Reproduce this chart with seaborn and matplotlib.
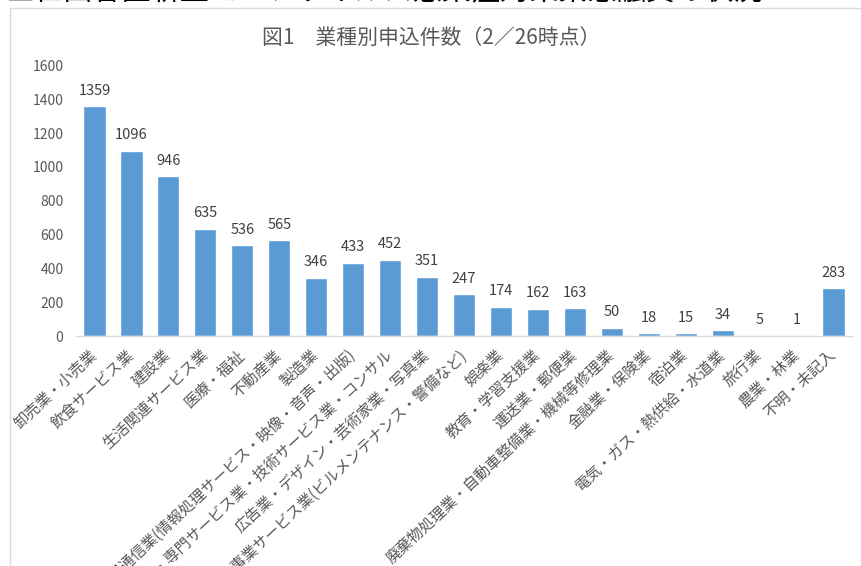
import matplotlib
matplotlib.use("Agg")
import matplotlib.pyplot as plt
import seaborn as sns
import pandas as pd
from matplotlib.patches import Rectangle

# Applications by industry (as of 2/26)
industries = [
    "卸売業・小売業",
    "飲食サービス業",
    "建設業",
    "生活関連サービス業",
    "医療・福祉",
    "不動産業",
    "製造業",
    "情報通信業(情報処理サービス・映像・音声・出版)",
    "学術研究・専門サービス業・技術サービス業・コンサル",
    "広告業・デザイン・芸術家業・写真業",
    "その他の事業サービス業(ビルメンテナンス・警備など)",
    "娯楽業",
    "教育・学習支援業",
    "運送業・郵便業",
    "廃棄物処理業・自動車整備業・機械等修理業",
    "金融業・保険業",
    "宿泊業",
    "電気・ガス・熱供給・水道業",
    "旅行業",
    "農業・林業",
    "不明・未記入",
]
applications = [1359, 1096, 946, 635, 536, 565, 346, 433, 452, 351, 247,
                174, 162, 163, 50, 18, 15, 34, 5, 1, 283]
y_ticks = [0, 200, 400, 600, 800, 1000, 1200, 1400, 1600]

header = "■世田谷区新型コロナウイルス感染症対策緊急融資の状況"
title = "図1　業種別申込件数（2／26時点）"

sns.set_theme(style="white")
plt.rcParams["font.family"] = ["Noto Sans CJK JP", "DejaVu Sans"]

W, H = 862, 566
fig = plt.figure(figsize=(W / 100, H / 100), dpi=100)
fig.patch.set_facecolor("white")

# page header above the chart frame (runs off the top edge)
fig.text(5 / W, 1 - 0.5 / H, header, ha="left", va="baseline",
         fontsize=21, color="black")

# chart frame
fig.patches.append(Rectangle((10 / W, -0.1), 1.2, 1 - 8 / H + 0.1,
                             transform=fig.transFigure, fill=False,
                             edgecolor="#d9d9d9", linewidth=1.0))

fig.text(0.5, 1 - 38 / H, title, ha="center", va="center",
         fontsize=15, color="#595959")

ax = fig.add_axes([76 / W, 230 / H, 776 / W, 270.5 / H])
ax.set_facecolor("none")

df = pd.DataFrame({"業種": industries, "件数": applications})
sns.barplot(data=df, x="業種", y="件数", color="#5b9bd5", saturation=1,
            width=0.6, ax=ax)

ax.bar_label(ax.containers[0], labels=[str(v) for v in applications],
             padding=6, fontsize=10.5, color="#404040")

ax.set_ylim(0, 1600)
ax.set_yticks(y_ticks)
ax.set_yticklabels([str(t) for t in y_ticks], fontsize=10, color="#595959")
ax.set_xticks(range(len(industries)))
ax.set_xticklabels(industries, rotation=43, ha="right", va="center",
                   rotation_mode="anchor", fontsize=11, color="#595959")
ax.tick_params(axis="x", length=0, pad=12)
ax.tick_params(axis="y", length=0, pad=9)
ax.set_xlabel("")
ax.set_ylabel("")

for side in ("top", "right", "left"):
    ax.spines[side].set_visible(False)
ax.spines["bottom"].set_color("#d9d9d9")
ax.spines["bottom"].set_linewidth(1.0)

fig.savefig("out.png", dpi=100)
